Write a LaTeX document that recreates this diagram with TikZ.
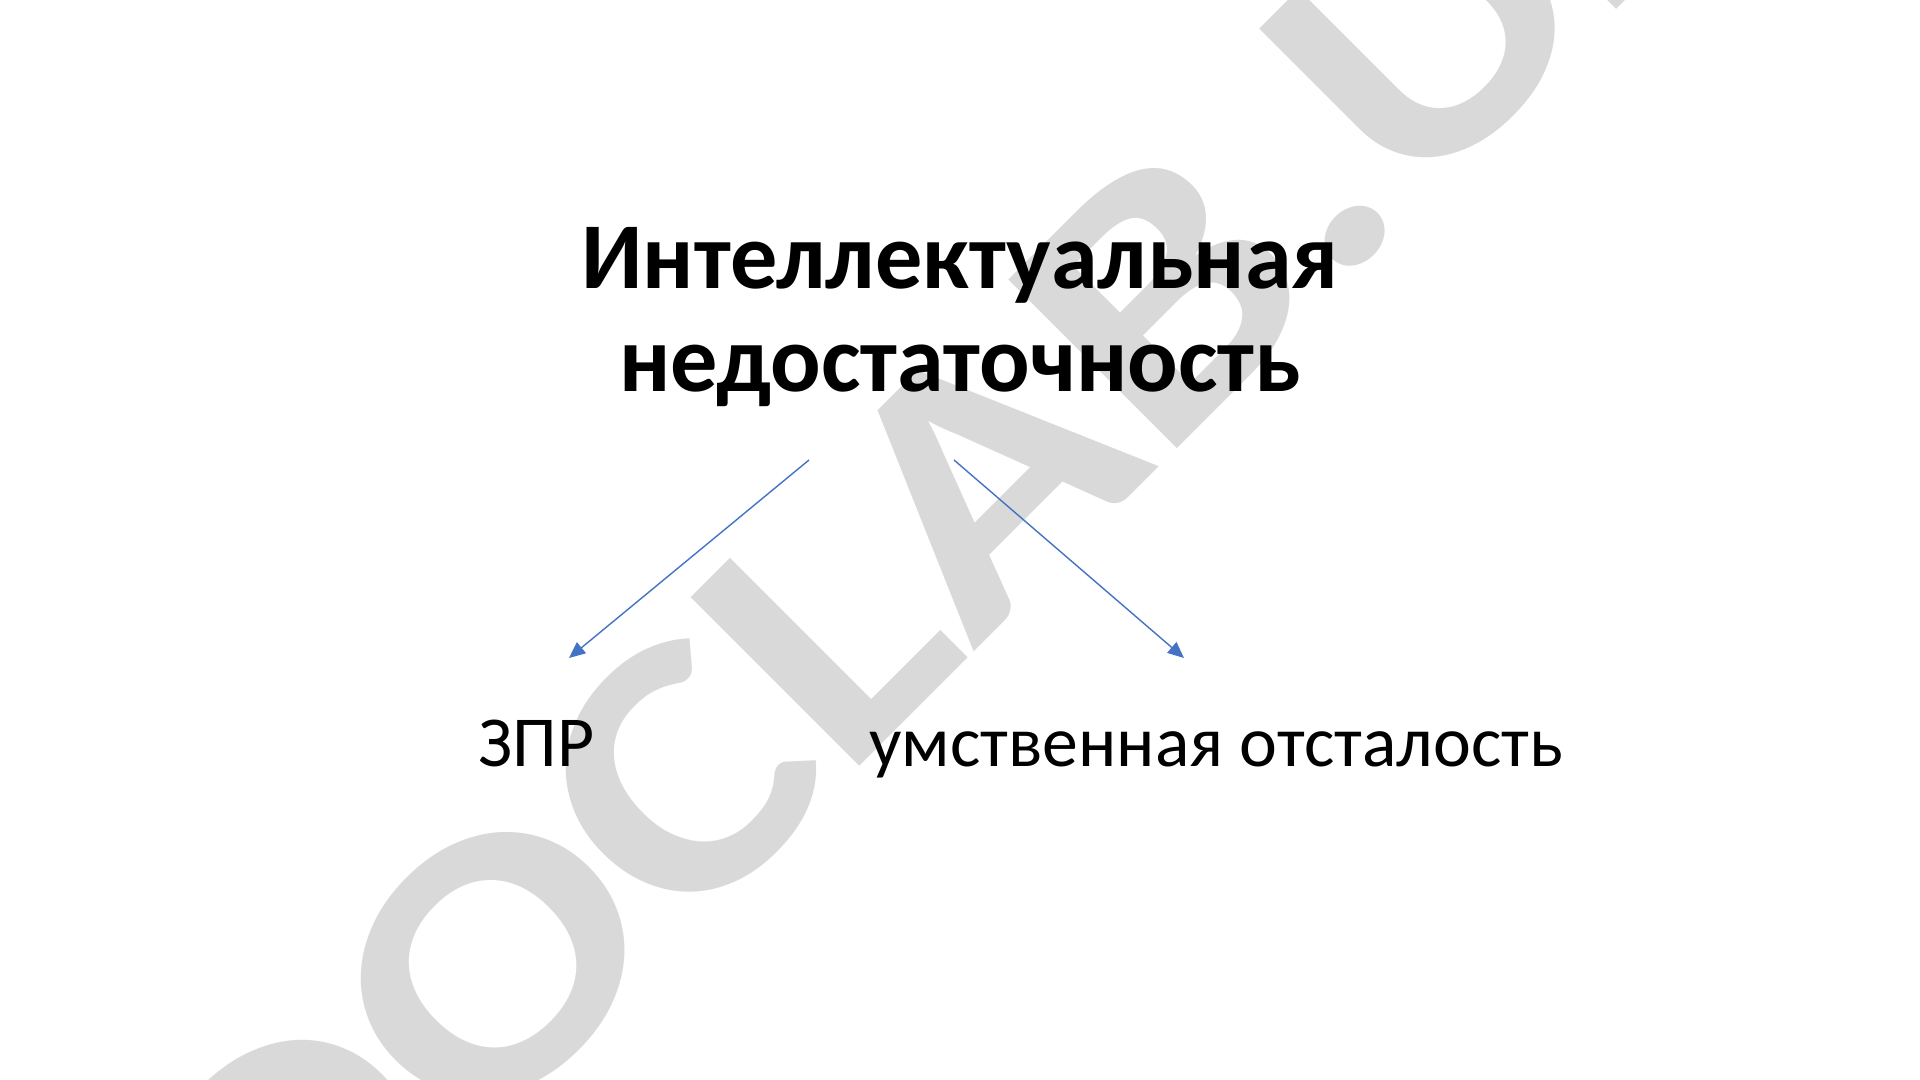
\documentclass[tikz,border=0pt]{standalone}
\usepackage{fontspec}
\setmainfont{Carlito}
\usepackage{tikz}
\usetikzlibrary{arrows.meta}
\definecolor{arrowblue}{HTML}{4472C4}
\definecolor{markgray}{HTML}{D9D9D9}
\tikzset{
	headline/.style={font=\bfseries\fontsize{26.8}{29.4}\selectfont, align=center, inner sep=0pt},
	itemtext/.style={font=\fontsize{20.4}{22}\selectfont, inner sep=0pt, anchor=base west},
	link/.style={arrowblue, line width=0.4pt, -{Triangle[length=4.6pt,width=4pt]}}
}
\begin{document}
\begin{tikzpicture}[x=0.01cm,y=-0.01cm]
	\useasboundingbox (0,0) rectangle (1920,1080);
	% watermark
	\begin{scope}
		\clip (0,0) rectangle (1920,1080);
		\node[markgray, font=\bfseries\fontsize{104.6}{104.6}\selectfont, rotate=45, xscale=1.18, anchor=base west, inner sep=0pt] (mark) at (280,1346) {DOCLAB.UZ};
	\end{scope}
	\node[headline] (title) at (960,317) {Интеллектуальная\\недостаточность};
	\node[itemtext] (zpr) at (478,767) {ЗПР};
	\node[itemtext] (uo) at (869,767) {умственная отсталость};
	\coordinate (lfrom) at (809,460);
	\coordinate (lto) at (569,658);
	\coordinate (rfrom) at (954,460);
	\coordinate (rto) at (1184,658);
	\draw[link] (lfrom) -- (lto);
	\draw[link] (rfrom) -- (rto);
\end{tikzpicture}
\end{document}
